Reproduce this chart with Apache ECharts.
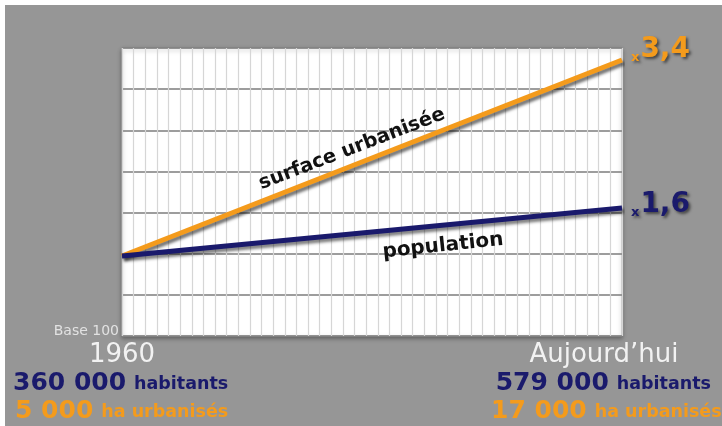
<!DOCTYPE html>
<html>
<head>
<meta charset="utf-8">
<script src="https://cdn.jsdelivr.net/npm/echarts@6/dist/echarts.min.js"></script>
<style>html,body{margin:0;padding:0;background:#fff;}#c{width:722px;height:426px;}</style>
</head>
<body>
<div id="c"></div>
<script>
// Data (base 100 index)
const xSteps = [0, 43];
const surfaceUrbanisee = [100, 345];
const population = [100, 160];
const endLabels = ['3,4', '1,6'];
const yMax = 360;
const ySplits = 7;

const ORANGE = '#f49b1c';
const NAVY = '#1a1a6c';
const FONT = '"DejaVu Sans", Verdana, sans-serif';

const chart = echarts.init(document.getElementById('c'), null, {renderer: 'canvas'});

function endLabel(color, txt, off) {
  return {
    show: true,
    distance: 9,
    offset: off,
    formatter: '{s|x}{b|' + txt + '}',
    rich: {
      s: {fontFamily: FONT, fontSize: 13, fontWeight: 'bold', color: color, verticalAlign: 'bottom', padding: [0, 1, 0, 0],
          textShadowColor: 'rgba(0,0,0,0.55)', textShadowBlur: 3, textShadowOffsetX: 2, textShadowOffsetY: 2},
      b: {fontFamily: FONT, fontSize: 28, fontWeight: 'bold', color: color,
          textShadowColor: 'rgba(0,0,0,0.55)', textShadowBlur: 3, textShadowOffsetX: 2, textShadowOffsetY: 2}
    }
  };
}

function twoPart(x, y, align, big, small, color) {
  return {type: 'text', x: x, y: y, z: 10, style: {
    text: '{a|' + big + '}{b|' + small + '}', align: align, verticalAlign: 'middle',
    rich: {
      a: {fontFamily: FONT, fontSize: 25, fontWeight: 'bold', fill: color},
      b: {fontFamily: FONT, fontSize: 17.5, fontWeight: 'bold', fill: color, verticalAlign: 'bottom', padding: [0, 0, 2, 8]}
    }
  }};
}

const option = {
  backgroundColor: '#969696',
  animation: false,
  grid: {
    left: 122, top: 48, width: 500, height: 288,
    show: true, backgroundColor: '#ffffff', borderColor: '#b0b0b0', borderWidth: 1,
    shadowColor: 'rgba(0,0,0,0.35)', shadowBlur: 4, shadowOffsetX: 0, shadowOffsetY: 2
  },
  xAxis: {
    type: 'value', min: 0, max: 43, interval: 1,
    axisLine: {show: false}, axisTick: {show: false}, axisLabel: {show: false},
    splitLine: {show: true, lineStyle: {color: '#d6d6d6', width: 1.2}}
  },
  yAxis: {
    type: 'value', min: 0, max: yMax, interval: yMax / ySplits,
    axisLine: {show: false}, axisTick: {show: false}, axisLabel: {show: false},
    splitLine: {show: true, lineStyle: {color: '#7c7c7c', width: 1.5}}
  },
  series: [
    {
      type: 'line', name: 'surface urbanisée',
      data: xSteps.map((x, i) => [x, surfaceUrbanisee[i]]),
      symbol: 'none',
      lineStyle: {color: ORANGE, width: 5, shadowColor: 'rgba(0,0,0,0.55)', shadowBlur: 3, shadowOffsetX: 2, shadowOffsetY: 3},
      endLabel: endLabel(ORANGE, endLabels[0], [0, -10]),
      z: 3
    },
    {
      type: 'line', name: 'population',
      data: xSteps.map((x, i) => [x, population[i]]),
      symbol: 'none',
      lineStyle: {color: NAVY, width: 5, shadowColor: 'rgba(0,0,0,0.5)', shadowBlur: 3, shadowOffsetX: 2, shadowOffsetY: 3},
      endLabel: endLabel(NAVY, endLabels[1], [0, -3]),
      z: 4
    }
  ],
  graphic: [
    {type: 'rect', shape: {x: 0, y: 0, width: 722, height: 5}, style: {fill: '#ffffff'}, silent: true, z: 10},
    {type: 'rect', shape: {x: 0, y: 0, width: 5, height: 426}, style: {fill: '#ffffff'}, silent: true, z: 10},
    {type: 'text', x: 119, y: 331, style: {text: 'Base 100', font: '14px ' + FONT, fill: '#e2e2e2', align: 'right', verticalAlign: 'middle'}, z: 10},
    {type: 'text', x: 122, y: 355, style: {text: '1960', font: '26px ' + FONT, fill: '#f2f2f2', align: 'center', verticalAlign: 'middle'}, z: 10},
    {type: 'text', x: 604, y: 355, style: {text: 'Aujourd\u2019hui', font: '26px ' + FONT, fill: '#f2f2f2', align: 'center', verticalAlign: 'middle'}, z: 10},
    twoPart(13, 383, 'left', '360 000', 'habitants', NAVY),
    twoPart(15, 411, 'left', '5 000', 'ha urbanisés', ORANGE),
    twoPart(711, 383, 'right', '579 000', 'habitants', NAVY),
    twoPart(491, 411, 'left', '17 000', 'ha urbanisés', ORANGE),
    {type: 'text', x: 352, y: 149, rotation: 21 * Math.PI / 180, style: {
      text: 'surface urbanisée', font: 'bold 19.5px ' + FONT, fill: '#111', align: 'center', verticalAlign: 'middle',
      shadowColor: 'rgba(0,0,0,0.45)', shadowBlur: 3, shadowOffsetX: 1, shadowOffsetY: 2
    }, z: 10},
    {type: 'text', x: 443, y: 246, rotation: 6 * Math.PI / 180, style: {
      text: 'population', font: 'bold 20px ' + FONT, fill: '#111', align: 'center', verticalAlign: 'middle',
      shadowColor: 'rgba(0,0,0,0.45)', shadowBlur: 3, shadowOffsetX: 1, shadowOffsetY: 2
    }, z: 10}
  ]
};
chart.setOption(option);
</script>
</body>
</html>
